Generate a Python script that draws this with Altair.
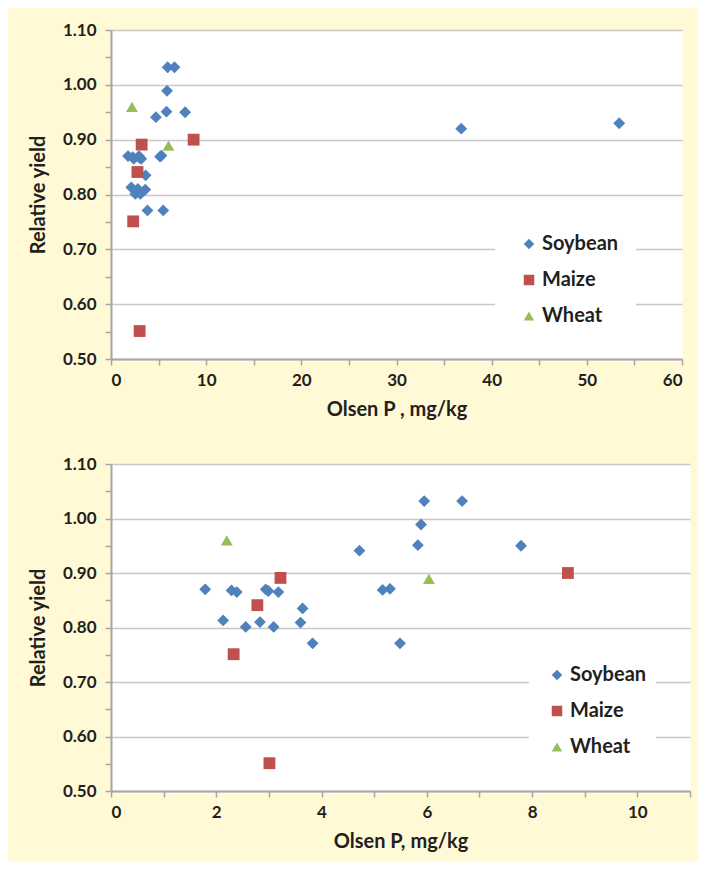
import altair as alt
import pandas as pd

crops = ["Soybean", "Maize", "Wheat"]
crop_colors = ["#4F81BD", "#C0504D", "#9BBB59"]
crop_shapes = ["diamond", "square", "triangle-up"]

soy_x = [1.79, 2.13, 2.29, 2.39, 2.56, 2.83, 2.94, 2.99, 3.09, 3.18, 3.60, 3.64,
         3.83, 4.72, 5.16, 5.30, 5.49, 5.83, 5.89, 5.95, 6.67, 7.79, 36.8, 53.4]
soy_y = [0.870, 0.813, 0.868, 0.865, 0.801, 0.810, 0.870, 0.867, 0.801, 0.865, 0.809, 0.835,
         0.771, 0.941, 0.869, 0.871, 0.771, 0.951, 0.989, 1.032, 1.032, 0.950, 0.920, 0.930]
maize_x = [2.33, 2.78, 3.22, 3.01, 8.68]
maize_y = [0.751, 0.841, 0.891, 0.551, 0.900]
wheat_x = [2.20, 6.04]
wheat_y = [0.960, 0.889]

y_ticks = [0.50, 0.55, 0.60, 0.65, 0.70, 0.75, 0.80, 0.85, 0.90, 0.95, 1.00, 1.05, 1.10]
top_x_ticks = [0, 5, 10, 15, 20, 25, 30, 35, 40, 45, 50, 55, 60]
bottom_x_ticks = [0, 1, 2, 3, 4, 5, 6, 7, 8, 9, 10, 11]

rows = []
for name, xs, ys in [("Soybean", soy_x, soy_y), ("Maize", maize_x, maize_y), ("Wheat", wheat_x, wheat_y)]:
    for a, b in zip(xs, ys):
        rows.append({"x": a, "y": b, "crop": name})
df = pd.DataFrame(rows)

TEXT = "#231F20"
major_test = "abs(datum.value*10 - round(datum.value*10)) < 0.001"


def make_legend(lx, ly, lpad, soff):
    return alt.Legend(title=None, orient="none", legendX=lx, legendY=ly,
                      fillColor="white", padding=lpad, symbolOffset=soff,
                      labelFontSize=20, labelFontWeight="bold", labelColor=TEXT,
                      labelFont="Lato", symbolSize=110, rowPadding=16,
                      labelOffset=3, strokeColor="white")


def panel(xmax, xticks, xlabel_expr, xtitle, width, height, lx, ly, lpad, soff, filt):
    base = alt.Chart(df)
    if filt:
        base = base.transform_filter(alt.datum.x <= xmax)
    return base.mark_point(filled=True, opacity=1, size=140, strokeWidth=0).encode(
        x=alt.X("x:Q",
                scale=alt.Scale(domain=[0, xmax], nice=False, zero=True),
                axis=alt.Axis(values=xticks, labelExpr=xlabel_expr, grid=False,
                              title=xtitle, labelPadding=7, titlePadding=11)),
        y=alt.Y("y:Q",
                scale=alt.Scale(domain=[0.5, 1.1], nice=False, zero=False),
                axis=alt.Axis(values=y_ticks,
                              labelExpr=major_test + " ? format(datum.value, '.2f') : ''",
                              grid=True,
                              gridOpacity={"condition": {"test": major_test, "value": 1}, "value": 0},
                              title="Relative yield", labelPadding=9, titlePadding=14)),
        color=alt.Color("crop:N", scale=alt.Scale(domain=crops, range=crop_colors),
                        legend=make_legend(lx, ly, lpad, soff)),
        shape=alt.Shape("crop:N", scale=alt.Scale(domain=crops, range=crop_shapes),
                        legend=make_legend(lx, ly, lpad, soff)),
    ).properties(width=width, height=height)


top = panel(60, top_x_ticks, "datum.value % 10 == 0 ? datum.label : ''",
            "Olsen P , mg/kg", 571, 329, 384, 188, 16, 8, False)
bottom = panel(11, bottom_x_ticks, "datum.value % 2 == 0 && datum.value <= 10 ? datum.label : ''",
               "Olsen P, mg/kg", 579, 327, 418, 193, 8, 10, True)

chart = alt.vconcat(top, bottom, spacing=34).resolve_scale(
    x="independent", y="independent", color="independent", shape="independent"
).configure(
    background="#FFF9D6",
    padding={"left": 19, "top": 12, "right": 6, "bottom": 9},
    font="Lato",
).configure_view(
    fill="white", stroke="transparent"
).configure_axis(
    labelFont="Lato", labelFontSize=17, labelFontWeight="bold", labelColor=TEXT,
    titleFont="Lato", titleFontSize=20, titleFontWeight="bold", titleColor=TEXT,
    domainColor="#A6A6A6", domainWidth=2, tickColor="#A6A6A6", tickWidth=1.5, tickSize=6,
    gridColor="#C8C8C8", gridWidth=1.5,
)

chart.save("out.html", embed_options={"renderer": "svg", "actions": False})
